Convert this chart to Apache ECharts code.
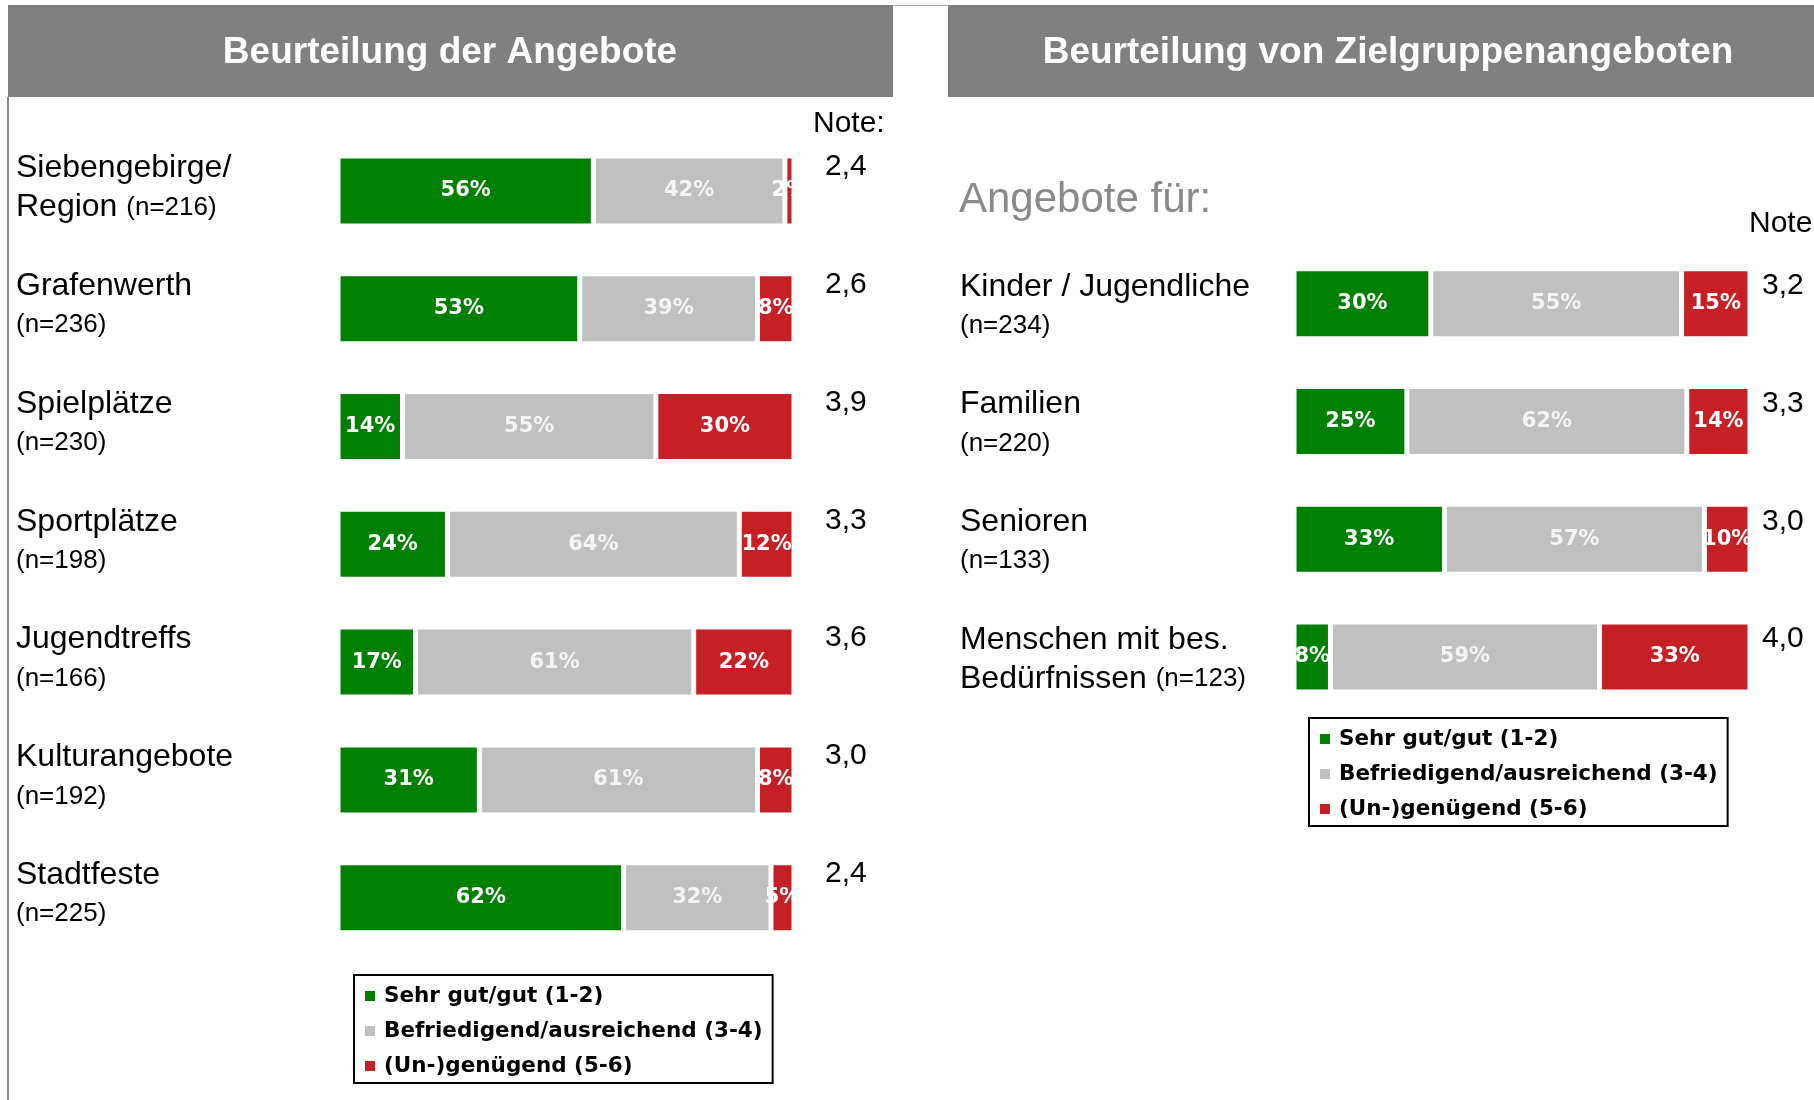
<!DOCTYPE html>
<html>
<head>
<meta charset="utf-8">
<script src="https://cdn.jsdelivr.net/npm/echarts@6/dist/echarts.min.js"></script>
<style>
html,body{margin:0;padding:0;background:#fff;}
#chart{width:1814px;height:1100px;}
</style>
</head>
<body>
<div id="chart"></div>
<script>
// ---- data ----
const seriesNames = ['Sehr gut/gut (1-2)', 'Befriedigend/ausreichend (3-4)', '(Un-)genügend (5-6)'];

const leftCategories = ['Siebengebirge/\nRegion', 'Grafenwerth', 'Spielplätze', 'Sportplätze', 'Jugendtreffs', 'Kulturangebote', 'Stadtfeste'];
const leftN = [216, 236, 230, 198, 166, 192, 225];
const leftGood = [56, 53, 14, 24, 17, 31, 62];
const leftMid = [42, 39, 55, 64, 61, 61, 32];
const leftBad = [2, 8, 30, 12, 22, 8, 5];
const leftNote = [2.4, 2.6, 3.9, 3.3, 3.6, 3.0, 2.4];

const rightCategories = ['Kinder / Jugendliche', 'Familien', 'Senioren', 'Menschen mit bes.\nBedürfnissen'];
const rightN = [234, 220, 133, 123];
const rightGood = [30, 25, 33, 8];
const rightMid = [55, 62, 57, 59];
const rightBad = [15, 14, 10, 33];
const rightNote = [3.2, 3.3, 3.0, 4.0];

const colors = ['#008000', '#c0c0c0', '#c42026'];
const labelColors = ['#ffffff', '#f4f4f4', '#ffffff'];

// ---- helpers ----
const SANS = '"Liberation Sans", Arial, sans-serif';
const BOLDF = '"DejaVu Sans", sans-serif';

function shares(parts) {
  // percent-stacked: each row drawn as share of its row total
  return parts.map(arr => arr.map((v, i) => v / (parts[0][i] + parts[1][i] + parts[2][i]) * 100));
}
function fmtNote(v) { return v.toFixed(1).replace('.', ','); }
function catFormatter(ns) {
  return function (val, idx) {
    const p = String(val).split('\n');
    if (p.length > 1) return '{big|' + p[0] + '}\n{big|' + p[1] + ' }{small|(n=' + ns[idx] + ')}';
    return '{big|' + val + '}\n{small|(n=' + ns[idx] + ')}';
  };
}
const richLabel = {
  big: { fontSize: 32, fontFamily: SANS, color: '#000', lineHeight: 39 },
  small: { fontSize: 26, fontFamily: SANS, color: '#000', lineHeight: 39 }
};
function noteRich(lh) {
  return {
    n: { fontSize: 30, fontFamily: SANS, color: '#000', lineHeight: lh },
    e: { fontSize: 30, fontFamily: SANS, color: '#000', lineHeight: lh }
  };
}
function noteFormatter(notes) {
  return (v, i) => '{n|' + fmtNote(notes[i]) + '}\n{e| }';
}

function makeSeries(raw, stack, xi, yi) {
  const sh = shares(raw);
  return raw.map((arr, k) => ({
    name: seriesNames[k],
    type: 'bar',
    stack: stack,
    xAxisIndex: xi,
    yAxisIndex: yi,
    barWidth: 70,
    clip: false,
    data: sh[k],
    itemStyle: { color: colors[k], borderColor: '#ffffff', borderWidth: 2.5 },
    label: {
      show: true,
      position: 'inside',
      color: labelColors[k],
      fontFamily: BOLDF,
      fontWeight: 'bold',
      fontSize: 21,
      formatter: p => arr[p.dataIndex] + '%'
    }
  }));
}

const axisHidden = { axisLine: { show: false }, axisTick: { show: false }, splitLine: { show: false } };

function legendAt(left, top) {
  return {
    data: seriesNames,
    orient: 'vertical',
    left: left, top: top,
    icon: 'rect',
    itemWidth: 10, itemHeight: 10,
    itemGap: 11,
    padding: [9, 10, 5, 11],
    borderColor: '#000', borderWidth: 2,
    backgroundColor: '#fff',
    selectedMode: false,
    itemStyle: { borderWidth: 0 },
    textStyle: { fontFamily: BOLDF, fontWeight: 'bold', fontSize: 21.5, color: '#000', lineHeight: 24, padding: [0, 0, 0, 4] }
  };
}

const option = {
  animation: false,
  backgroundColor: '#ffffff',
  grid: [
    { left: 338, top: 132, width: 456, height: 824.6, containLabel: false, outerBoundsMode: 'none' },
    { left: 1294, top: 245, width: 456, height: 470.8, containLabel: false, outerBoundsMode: 'none' }
  ],
  xAxis: [
    Object.assign({ type: 'value', gridIndex: 0, min: 0, max: 100, show: false }, axisHidden),
    Object.assign({ type: 'value', gridIndex: 1, min: 0, max: 100, show: false }, axisHidden)
  ],
  yAxis: [
    Object.assign({
      type: 'category', gridIndex: 0, inverse: true, data: leftCategories, position: 'left',
      axisLabel: { interval: 0, align: 'left', verticalAlign: 'middle', margin: 322, padding: [0, 0, 6, 0], formatter: catFormatter(leftN), rich: richLabel }
    }, axisHidden),
    Object.assign({
      type: 'category', gridIndex: 0, inverse: true, data: leftCategories, position: 'right',
      axisLabel: { interval: 0, align: 'left', verticalAlign: 'middle', margin: 31,
        formatter: noteFormatter(leftNote), rich: noteRich(48) }
    }, axisHidden),
    Object.assign({
      type: 'category', gridIndex: 1, inverse: true, data: rightCategories, position: 'left',
      axisLabel: { interval: 0, align: 'left', verticalAlign: 'middle', margin: 334, padding: [5, 0, 0, 0], formatter: catFormatter(rightN), rich: richLabel }
    }, axisHidden),
    Object.assign({
      type: 'category', gridIndex: 1, inverse: true, data: rightCategories, position: 'right',
      axisLabel: { interval: 0, align: 'left', verticalAlign: 'middle', margin: 12,
        formatter: noteFormatter(rightNote), rich: noteRich(36) }
    }, axisHidden)
  ],
  legend: [legendAt(354, 975), legendAt(1309, 718)],
  series: [].concat(
    makeSeries([leftGood, leftMid, leftBad], 'L', 0, 0),
    makeSeries([rightGood, rightMid, rightBad], 'R', 1, 2)
  ),
  graphic: [
    { type: 'rect', shape: { x: 8, y: 5, width: 885, height: 92 }, style: { fill: '#808080' }, z: 0 },
    { type: 'rect', shape: { x: 948, y: 5, width: 866, height: 92 }, style: { fill: '#808080' }, z: 0 },
    { type: 'line', shape: { x1: 893, y1: 5.5, x2: 948, y2: 5.5 }, style: { stroke: '#a8a8a8', lineWidth: 1 } },
    { type: 'line', shape: { x1: 8, y1: 97, x2: 8, y2: 1100 }, style: { stroke: '#8c8c8c', lineWidth: 2 } },
    { type: 'text', x: 450, y: 53, style: { text: 'Beurteilung der Angebote', fill: '#fff', font: 'bold 37px ' + SANS, align: 'center', verticalAlign: 'middle', textAlign: 'center', textVerticalAlign: 'middle' } },
    { type: 'text', x: 1388, y: 53, style: { text: 'Beurteilung von Zielgruppenangeboten', fill: '#fff', font: 'bold 37px ' + SANS, align: 'center', verticalAlign: 'middle', textAlign: 'center', textVerticalAlign: 'middle' } },
    { type: 'text', x: 813, y: 124, style: { text: 'Note:', fill: '#000', font: '30px ' + SANS, align: 'left', verticalAlign: 'middle', textAlign: 'left', textVerticalAlign: 'middle' } },
    { type: 'text', x: 1749, y: 224, style: { text: 'Note:', fill: '#000', font: '30px ' + SANS, align: 'left', verticalAlign: 'middle', textAlign: 'left', textVerticalAlign: 'middle' } },
    { type: 'text', x: 959, y: 200, style: { text: 'Angebote für:', fill: '#8a8a8a', font: '42px ' + SANS, align: 'left', verticalAlign: 'middle', textAlign: 'left', textVerticalAlign: 'middle' } }
  ]
};

const chart = echarts.init(document.getElementById('chart'), null, { renderer: 'canvas' });
chart.setOption(option);
</script>
</body>
</html>
